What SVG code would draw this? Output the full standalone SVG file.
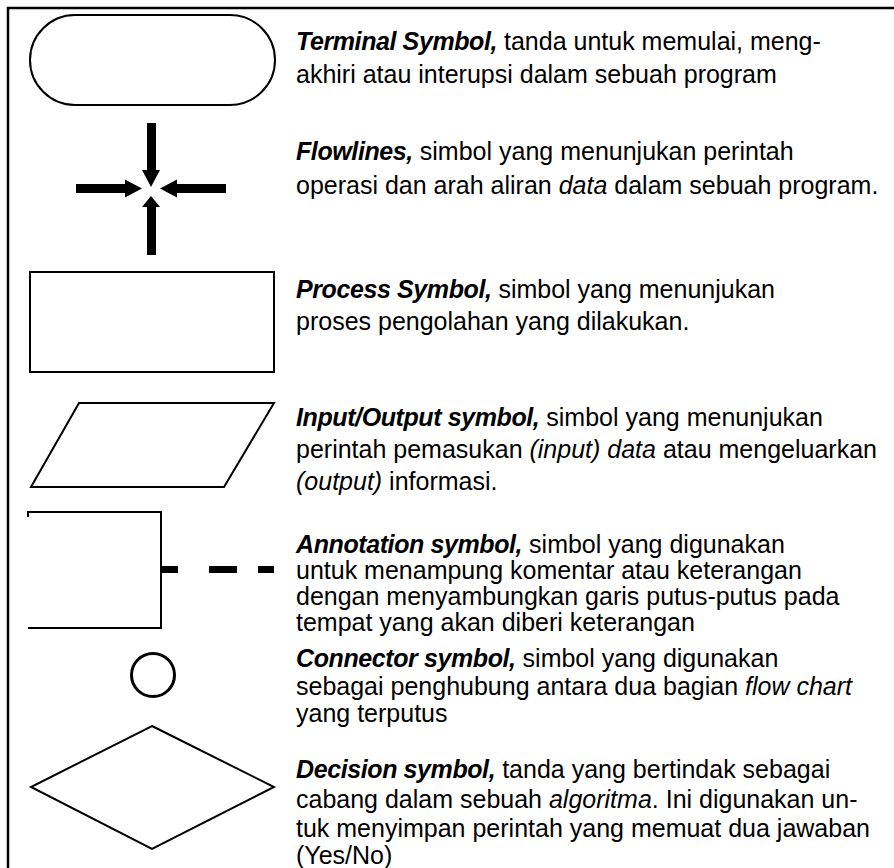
<svg xmlns="http://www.w3.org/2000/svg" width="894" height="868" viewBox="0 0 894 868">
  <style>
    .frame { fill: none; stroke: #000; stroke-width: 2.5; }
    .shape { fill: #fff; stroke: #000; stroke-width: 2; }
    .solid { fill: #000; stroke: none; }
    text { font-family: "Liberation Sans", Arial, sans-serif; font-size: 25px; fill: #000; }
    .h { font-weight: bold; font-style: italic; letter-spacing: -0.4px; }
    .i { font-style: italic; }
  </style>
  <rect x="0" y="0" width="894" height="868" fill="#fff"/>

  <!-- outer frame (top and left edges) -->
  <path class="frame" d="M8 868 V8 H894"/>

  <!-- terminal -->
  <g id="terminal">
    <rect class="shape" x="30" y="15" width="245" height="90" rx="45" ry="45"/>
  </g>

  <!-- flowlines: four arrows meeting at a point -->
  <g id="flowlines">
    <polygon class="solid" points="147,123 156,123 156,170 160,170 151,187 142,170 147,170"/>
    <polygon class="solid" points="147,255 156,255 156,207 160,207 151,196 142,207 147,207"/>
    <polygon class="solid" points="76,184 125,184 125,179.5 142,188.5 125,197.5 125,193 76,193"/>
    <polygon class="solid" points="226,184 177,184 177,179.5 160,188.5 177,197.5 177,193 226,193"/>
  </g>

  <!-- process -->
  <g id="process">
    <rect class="shape" x="30" y="272" width="244" height="100"/>
  </g>

  <!-- input / output -->
  <g id="io">
    <polygon class="shape" points="79,403 274,403 224,487 31,487"/>
  </g>

  <!-- annotation bracket with dashed lead -->
  <g id="annotation">
    <path class="shape" d="M28 517 V512 H161 V628 H28" style="fill:none"/>
    <rect class="solid" x="161" y="566" width="17" height="7"/>
    <rect class="solid" x="209" y="566" width="28" height="7"/>
    <rect class="solid" x="258" y="566" width="16" height="7"/>
  </g>

  <!-- connector -->
  <g id="connector">
    <circle cx="153" cy="675" r="21.5" fill="#fff" stroke="#000" stroke-width="3"/>
  </g>

  <!-- decision -->
  <g id="decision">
    <polygon class="shape" points="152,726 274,787 152,849 31,787"/>
  </g>

  <!-- descriptions -->
  <g id="desc-terminal">
    <text x="296" y="50"><tspan class="h">Terminal Symbol,</tspan> tanda untuk memulai, meng-</text>
    <text x="296" y="83">akhiri atau interupsi dalam sebuah program</text>
  </g>
  <g id="desc-flowlines">
    <text x="296" y="160"><tspan class="h">Flowlines,</tspan> simbol yang menunjukan perintah</text>
    <text x="296" y="194">operasi dan arah aliran <tspan class="i">data</tspan> dalam sebuah program.</text>
  </g>
  <g id="desc-process">
    <text x="296" y="298"><tspan class="h">Process Symbol,</tspan> simbol yang menunjukan</text>
    <text x="296" y="330">proses pengolahan yang dilakukan.</text>
  </g>
  <g id="desc-io">
    <text x="296" y="426"><tspan class="h">Input/Output symbol,</tspan> simbol yang menunjukan</text>
    <text x="296" y="458">perintah pemasukan <tspan class="i">(input) data</tspan> atau mengeluarkan</text>
    <text x="296" y="490"><tspan class="i">(output)</tspan> informasi.</text>
  </g>
  <g id="desc-annotation">
    <text x="296" y="553"><tspan class="h">Annotation symbol,</tspan> simbol yang digunakan</text>
    <text x="296" y="579">untuk menampung komentar atau keterangan</text>
    <text x="296" y="605">dengan menyambungkan garis putus-putus pada</text>
    <text x="296" y="631">tempat yang akan diberi keterangan</text>
  </g>
  <g id="desc-connector">
    <text x="296" y="667"><tspan class="h">Connector symbol,</tspan> simbol yang digunakan</text>
    <text x="296" y="695">sebagai penghubung antara dua bagian <tspan class="i">flow chart</tspan></text>
    <text x="296" y="722">yang terputus</text>
  </g>
  <g id="desc-decision">
    <text x="296" y="778"><tspan class="h">Decision symbol,</tspan> tanda yang bertindak sebagai</text>
    <text x="296" y="808">cabang dalam sebuah <tspan class="i">algoritma</tspan>. Ini digunakan un-</text>
    <text x="296" y="837">tuk menyimpan perintah yang memuat dua jawaban</text>
    <text x="296" y="864">(Yes/No)</text>
  </g>
</svg>
